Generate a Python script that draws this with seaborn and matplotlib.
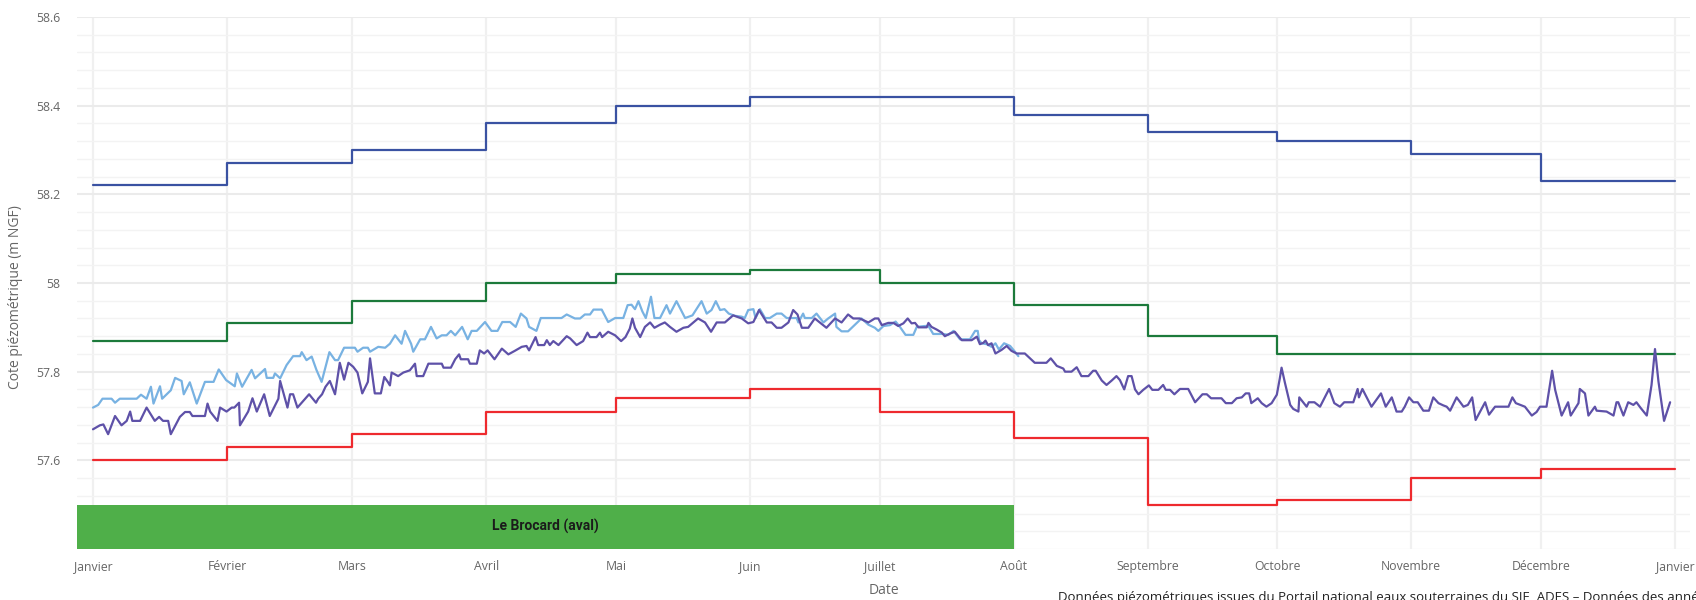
import numpy as np
import pandas as pd
import matplotlib
matplotlib.use("Agg")
import matplotlib.pyplot as plt
import seaborn as sns

# ---------------- data ----------------
year_start = "2024-01-01"
month_labels = ["Janvier", "Février", "Mars", "Avril", "Mai", "Juin", "Juillet",
                "Août", "Septembre", "Octobre", "Novembre", "Décembre", "Janvier"]

# monthly reference levels (m NGF), Jan..Dec
seuil_haut = [58.22, 58.27, 58.30, 58.36, 58.40, 58.42, 58.42, 58.38, 58.34, 58.32, 58.29, 58.23]
seuil_moyen = [57.87, 57.91, 57.96, 58.00, 58.02, 58.03, 58.00, 57.95, 57.88, 57.84, 57.84, 57.84]
seuil_bas = [57.60, 57.63, 57.66, 57.71, 57.74, 57.76, 57.71, 57.65, 57.50, 57.51, 57.56, 57.58]

# light-blue series (day of year, level)
lb_days = [0, 1.2, 2.2, 4.3, 5.1, 6.2, 10.1, 11.1, 12.4, 13.4, 14.0, 15.5, 16.0, 18.0, 19.0, 20.5,
           21.0, 22.4, 24.0, 25.9, 27.9, 29.1, 30.8, 32.8, 33.3, 34.5, 36.7, 37.5, 39.8, 40.2, 41.7,
           42.1, 43.3, 44.8, 46.3, 47.9, 48.3, 49.4, 50.6, 51.7, 52.9, 54.7, 56.0, 56.7, 58.1, 60.6,
           61.2, 62.5, 63.6, 64.1, 66.0, 67.6, 68.7, 69.9, 71.4, 72.2, 73.6, 74.1, 75.7, 76.8, 78.2,
           79.5, 80.7, 81.8, 82.8, 83.8, 85.4, 86.7, 87.6, 88.8, 90.7, 92.2, 93.6, 94.7, 96.5, 97.8,
           99.0, 100.3, 100.9, 102.6, 103.6, 108.4, 109.6, 111.5, 112.7, 113.8, 115.0, 115.8, 117.7,
           119.2, 120.8, 122.7, 123.7, 124.6, 125.4, 126.2, 127.1, 127.9, 129.1, 129.9, 131.2, 132.7,
           133.5, 135.0, 137.0, 138.7, 140.8, 142.0, 143.1, 144.1, 145.1, 146.1, 147.1, 148.5, 150.1,
           150.8, 151.6, 152.8, 153.3, 154.3, 155.5, 156.6, 158.2, 159.3, 160.5, 162.8, 163.2, 164.3,
           164.7, 166.3, 167.4, 169.0, 170.1, 171.7, 172.0, 173.2, 174.7, 177.8, 179.4, 180.9, 181.7,
           182.9, 184.4, 185.7, 186.7, 188.0, 189.8, 190.6, 192.5, 193.3, 194.4, 196.7, 197.9, 199.1,
           200.6, 202.9, 204.1, 204.7, 205.0, 205.6, 206.8, 207.9, 208.8, 209.6, 210.8, 212.2, 213.3,
           214.1]
lb_vals = [57.719, 57.725, 57.739, 57.739, 57.730, 57.739, 57.739, 57.748, 57.739, 57.766, 57.728,
           57.767, 57.739, 57.758, 57.786, 57.779, 57.749, 57.776, 57.728, 57.777, 57.777, 57.805,
           57.781, 57.767, 57.796, 57.766, 57.804, 57.785, 57.806, 57.786, 57.786, 57.796, 57.785,
           57.815, 57.835, 57.835, 57.844, 57.826, 57.834, 57.804, 57.777, 57.844, 57.826, 57.826,
           57.854, 57.854, 57.845, 57.854, 57.854, 57.845, 57.856, 57.854, 57.863, 57.882, 57.863,
           57.892, 57.863, 57.845, 57.873, 57.873, 57.901, 57.875, 57.882, 57.882, 57.892, 57.882,
           57.901, 57.873, 57.892, 57.892, 57.912, 57.892, 57.892, 57.912, 57.912, 57.901, 57.931,
           57.920, 57.901, 57.892, 57.921, 57.921, 57.929, 57.920, 57.920, 57.929, 57.929, 57.940,
           57.940, 57.912, 57.921, 57.921, 57.950, 57.951, 57.941, 57.959, 57.936, 57.921, 57.969,
           57.921, 57.921, 57.950, 57.931, 57.959, 57.921, 57.927, 57.959, 57.931, 57.939, 57.959,
           57.939, 57.941, 57.931, 57.926, 57.924, 57.921, 57.939, 57.941, 57.921, 57.941, 57.921,
           57.921, 57.931, 57.931, 57.921, 57.921, 57.911, 57.931, 57.921, 57.921, 57.931, 57.911,
           57.920, 57.931, 57.901, 57.891, 57.891, 57.920, 57.906, 57.899, 57.892, 57.903, 57.905,
           57.913, 57.901, 57.883, 57.883, 57.901, 57.903, 57.903, 57.885, 57.885, 57.883, 57.892,
           57.873, 57.873, 57.892, 57.892, 57.871, 57.864, 57.862, 57.856, 57.864, 57.850, 57.864,
           57.858, 57.845, 57.835]

# purple series (day of year, level)
pu_days = [0, 1.6, 2.4, 3.5, 5.1, 6.6, 7.8, 8.6, 9.1, 10.9, 12.4, 14.3, 15.3, 16.2, 17.4, 18.0, 20.1,
           21.3, 22.4, 23.0, 25.9, 26.5, 27.1, 28.8, 29.4, 30.9, 32.1, 32.7, 33.8, 34.0, 35.9, 36.9,
           37.9, 39.6, 40.9, 42.9, 43.3, 45.0, 45.6, 46.3, 47.3, 50.0, 51.6, 52.1, 53.0, 53.8, 54.8,
           56.0, 57.1, 58.1, 59.1, 60.2, 61.2, 62.3, 63.6, 64.1, 65.2, 66.6, 67.4, 68.2, 68.7, 69.1,
           70.6, 71.8, 73.3, 74.5, 74.9, 76.4, 77.6, 80.7, 81.1, 82.8, 83.8, 84.7, 85.1, 86.8, 87.2,
           88.8, 89.5, 90.5, 91.3, 92.9, 94.6, 96.1, 97.6, 99.2, 100.3, 100.9, 102.4, 103.0, 104.4,
           105.0, 105.7, 106.5, 107.7, 109.6, 110.4, 111.9, 113.4, 114.4, 115.0, 116.5, 117.3, 117.8,
           119.2, 120.8, 122.2, 123.2, 124.2, 124.8, 125.4, 126.6, 127.7, 128.9, 129.9, 131.2, 132.3,
           133.5, 135.0, 136.6, 137.7, 138.9, 140.0, 141.6, 143.0, 144.3, 146.2, 148.1, 150.1, 151.6,
           152.8, 154.1, 155.9, 157.0, 158.2, 159.3, 160.9, 162.0, 163.0, 164.0, 165.5, 167.0, 168.4,
           169.7, 171.7, 173.2, 174.7, 175.9, 177.4, 179.4, 180.9, 181.7, 182.5, 184.0, 185.2, 186.3,
           187.5, 188.5, 189.4, 190.2, 191.0, 192.9, 193.3, 194.0, 195.2, 196.4, 197.1, 198.3, 199.4,
           201.0, 203.3, 204.5, 205.2, 206.0, 206.5, 207.1, 207.9, 208.8, 210.2, 211.4, 212.5, 213.7,
           215.6, 216.8, 217.9, 220.6, 221.6, 223.0, 224.5, 224.9, 226.4, 227.6, 228.7, 230.3, 231.4,
           232.0, 233.4, 234.5, 235.7, 236.8, 237.6, 238.6, 239.5, 240.3, 241.1, 241.9, 243.0, 244.3,
           245.1, 246.5, 247.6, 248.2, 249.2, 250.2, 251.5, 253.4, 255.0, 256.7, 257.7, 258.7, 261.1,
           262.1, 263.5, 264.6, 265.8, 266.7, 267.5, 268.0, 269.5, 270.4, 271.5, 272.7, 273.9, 274.6,
           275.0, 275.8, 277.0, 277.7, 278.9, 279.1, 280.0, 280.8, 281.3, 282.6, 283.9, 286.0, 287.2,
           288.5, 289.5, 291.6, 292.6, 292.9, 293.7, 294.7, 295.8, 298.0, 299.1, 300.5, 301.6, 302.8,
           303.5, 304.5, 305.5, 306.5, 307.8, 309.1, 310.1, 311.3, 312.4, 313.2, 314.0, 315.5, 317.1,
           318.1, 319.1, 319.9, 322.1, 323.0, 324.4, 327.5, 328.4, 329.2, 330.5, 331.3, 332.9, 334.0,
           334.8, 336.3, 337.6, 338.3, 339.8, 341.3, 341.9, 343.7, 344.0, 345.2, 346.0, 347.5, 347.9,
           350.2, 351.8, 352.5, 352.9, 354.1, 355.2, 356.4, 357.1, 358.1, 359.5, 360.6, 361.4, 362.2,
           363.5, 364.9]
pu_vals = [57.670, 57.679, 57.681, 57.659, 57.700, 57.679, 57.689, 57.710, 57.689, 57.689, 57.719,
           57.689, 57.698, 57.689, 57.689, 57.659, 57.698, 57.709, 57.709, 57.700, 57.700, 57.728,
           57.710, 57.689, 57.719, 57.710, 57.719, 57.719, 57.730, 57.679, 57.710, 57.740, 57.710,
           57.749, 57.700, 57.739, 57.779, 57.719, 57.749, 57.749, 57.719, 57.749, 57.730, 57.739,
           57.749, 57.766, 57.779, 57.749, 57.820, 57.782, 57.820, 57.811, 57.798, 57.751, 57.777,
           57.830, 57.751, 57.751, 57.788, 57.777, 57.769, 57.798, 57.790, 57.798, 57.803, 57.818,
           57.790, 57.790, 57.818, 57.818, 57.809, 57.809, 57.828, 57.839, 57.828, 57.828, 57.818,
           57.818, 57.848, 57.841, 57.848, 57.828, 57.852, 57.839, 57.847, 57.856, 57.858, 57.848,
           57.878, 57.860, 57.860, 57.871, 57.860, 57.869, 57.860, 57.880, 57.875, 57.860, 57.869,
           57.888, 57.878, 57.878, 57.888, 57.878, 57.890, 57.882, 57.869, 57.878, 57.897, 57.920,
           57.899, 57.878, 57.901, 57.911, 57.899, 57.906, 57.911, 57.901, 57.890, 57.899, 57.901,
           57.911, 57.920, 57.911, 57.890, 57.911, 57.911, 57.927, 57.920, 57.909, 57.912, 57.939,
           57.911, 57.911, 57.899, 57.899, 57.911, 57.939, 57.929, 57.899, 57.899, 57.920, 57.909,
           57.899, 57.920, 57.911, 57.929, 57.920, 57.920, 57.911, 57.920, 57.920, 57.905, 57.910,
           57.910, 57.903, 57.909, 57.920, 57.909, 57.910, 57.900, 57.900, 57.910, 57.901, 57.895,
           57.888, 57.880, 57.886, 57.890, 57.871, 57.871, 57.879, 57.862, 57.865, 57.870, 57.860,
           57.864, 57.841, 57.849, 57.858, 57.847, 57.841, 57.841, 57.830, 57.820, 57.820, 57.830,
           57.813, 57.807, 57.800, 57.800, 57.810, 57.790, 57.790, 57.802, 57.802, 57.780, 57.770,
           57.780, 57.790, 57.781, 57.760, 57.790, 57.790, 57.760, 57.749, 57.759, 57.769, 57.759,
           57.759, 57.770, 57.759, 57.759, 57.749, 57.761, 57.761, 57.731, 57.749, 57.749, 57.740,
           57.740, 57.729, 57.729, 57.740, 57.742, 57.751, 57.751, 57.729, 57.740, 57.729, 57.721,
           57.729, 57.748, 57.785, 57.809, 57.774, 57.725, 57.716, 57.710, 57.742, 57.731, 57.721,
           57.731, 57.731, 57.721, 57.761, 57.729, 57.721, 57.731, 57.731, 57.761, 57.742, 57.761,
           57.742, 57.721, 57.751, 57.721, 57.742, 57.710, 57.710, 57.721, 57.742, 57.731, 57.731,
           57.712, 57.712, 57.742, 57.729, 57.724, 57.721, 57.712, 57.742, 57.721, 57.725, 57.742,
           57.691, 57.731, 57.703, 57.721, 57.721, 57.742, 57.729, 57.724, 57.721, 57.701, 57.709,
           57.721, 57.721, 57.802, 57.759, 57.701, 57.731, 57.701, 57.729, 57.761, 57.751, 57.701,
           57.721, 57.712, 57.710, 57.701, 57.731, 57.731, 57.701, 57.731, 57.725, 57.731, 57.718,
           57.701, 57.770, 57.851, 57.778, 57.689, 57.731]

# period band
band_label = "Le Brocard (aval)"
band_start, band_end = "2023-12-01", "2024-08-01"
band_low, band_high = 57.4, 57.5

footer = ("Données piézométriques issues du Portail national eaux souterraines du SIE, "
          "ADES – Données des années")

# ---------------- styling ----------------
C_HAUT = "#3a52a2"
C_MOY = "#1c7a3b"
C_BAS = "#ee2a2e"
C_LB = "#78b2e2"
C_PU = "#5e51a8"
C_BAND = "#4faf49"

sns.set_theme(style="white")
plt.rcParams["font.family"] = ["Open Sans", "DejaVu Sans"]

base = pd.Timestamp(year_start)
month_starts = pd.date_range(year_start, periods=13, freq="MS")


def to_dates(days):
    return base + pd.to_timedelta(np.asarray(days, dtype=float), unit="D")


fig = plt.figure(figsize=(16.96, 6.0), dpi=100)
ax = fig.add_axes([77 / 1696, 51 / 600, 1613 / 1696, 532 / 600])

# step threshold lines (last month extended to next January)
for vals, col in [(seuil_haut, C_HAUT), (seuil_moyen, C_MOY), (seuil_bas, C_BAS)]:
    df = pd.DataFrame({"date": month_starts, "niveau": list(vals) + [vals[-1]]})
    sns.lineplot(data=df, x="date", y="niveau", ax=ax, color=col, lw=1.6,
                 drawstyle="steps-post", zorder=4)

df_lb = pd.DataFrame({"date": to_dates(lb_days), "niveau": lb_vals})
df_pu = pd.DataFrame({"date": to_dates(pu_days), "niveau": pu_vals})
sns.lineplot(data=df_lb, x="date", y="niveau", ax=ax, color=C_LB, lw=1.6, zorder=5)
sns.lineplot(data=df_pu, x="date", y="niveau", ax=ax, color=C_PU, lw=1.6, zorder=6)

# axes range
x_left = base - pd.Timedelta(days=3.7)
x_right = base + pd.Timedelta(days=369.5)
ax.set_xlim(x_left, x_right)
ax.set_ylim(57.4, 58.6)

# band
ax.fill_between([pd.Timestamp(band_start), pd.Timestamp(band_end)], band_low, band_high,
                color=C_BAND, lw=0, zorder=3)
mid = x_left + (pd.Timestamp(band_end) - x_left) / 2
ax.text(mid, (band_low + band_high) / 2, band_label, ha="center", va="center",
        fontsize=10, fontweight="bold", color="#1b1b1b", zorder=7,
        family=["Roboto", "DejaVu Sans"])

# ticks & grid
ax.set_xticks(month_starts)
ax.set_xticklabels(month_labels)
ax.set_yticks([57.6, 57.8, 58.0, 58.2, 58.4, 58.6])
ax.set_yticklabels(["57.6", "57.8", "58", "58.2", "58.4", "58.6"])
ax.set_yticks(np.arange(57.4, 58.61, 0.04), minor=True)
ax.grid(which="major", axis="y", color="#ebebeb", lw=1.5, zorder=0)
ax.grid(which="minor", axis="y", color="#f3f3f3", lw=1.0, zorder=0)
ax.grid(which="major", axis="x", color="#f0f0f0", lw=1.6, zorder=0)
ax.set_axisbelow(True)
ax.tick_params(axis="both", which="both", length=0, labelsize=8.8, colors="#666666")
ax.tick_params(axis="y", pad=12)
ax.tick_params(axis="x", pad=8)
for s in ax.spines.values():
    s.set_visible(False)

ax.set_xlabel("Date", fontsize=10, color="#666666")
ax.set_ylabel("Cote piézométrique (m NGF)", fontsize=10, color="#666666")
ax.xaxis.set_label_coords(0.5, -(583 - 549) / 532)
ax.yaxis.set_label_coords(-(77 - 23) / 1613, 0.474)

fig.text(1058 / 1696, 1 - 591 / 600, footer, ha="left", va="top", fontsize=9.5,
         color="#222222")

fig.savefig("out.png", dpi=100)
